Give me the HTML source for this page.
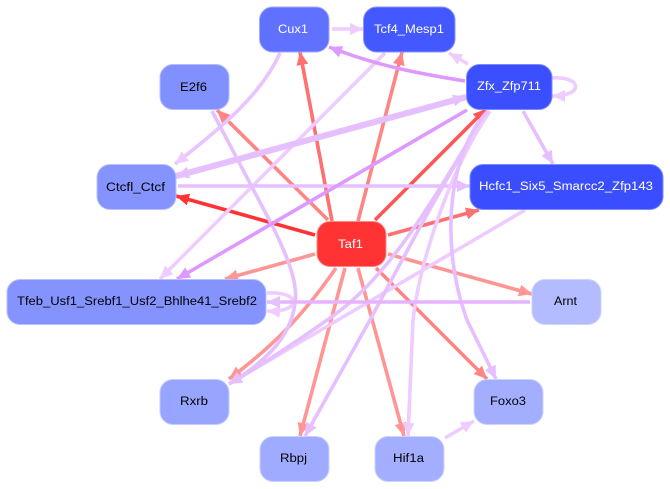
<!DOCTYPE html>
<html><head><meta charset="utf-8"><style>
html,body{margin:0;padding:0;background:#fff;width:670px;height:489px;overflow:hidden}
svg{display:block}
text{font-family:"Liberation Sans",sans-serif;font-size:11.5px}
.e{fill:none}
</style></head><body>
<svg width="670" height="489" viewBox="0 0 670 489" xmlns="http://www.w3.org/2000/svg">
<defs>
<marker id="a1" markerUnits="userSpaceOnUse" markerWidth="16" markerHeight="16" refX="13" refY="8" orient="auto"><path d="M0,2L13,8L0,14z" fill="#e6bfff"/></marker>
<marker id="a2" markerUnits="userSpaceOnUse" markerWidth="16" markerHeight="16" refX="13" refY="8" orient="auto"><path d="M0,2L13,8L0,14z" fill="#eeccff"/></marker>
<marker id="a3" markerUnits="userSpaceOnUse" markerWidth="16" markerHeight="16" refX="13" refY="8" orient="auto"><path d="M0,2L13,8L0,14z" fill="#dd99ff"/></marker>
<marker id="r3" markerUnits="userSpaceOnUse" markerWidth="16" markerHeight="16" refX="13" refY="8" orient="auto"><path d="M0,2L13,8L0,14z" fill="#ff3333"/></marker>
<marker id="r5" markerUnits="userSpaceOnUse" markerWidth="16" markerHeight="16" refX="13" refY="8" orient="auto"><path d="M0,2L13,8L0,14z" fill="#ff5555"/></marker>
<marker id="r7" markerUnits="userSpaceOnUse" markerWidth="16" markerHeight="16" refX="13" refY="8" orient="auto"><path d="M0,2L13,8L0,14z" fill="#ff7070"/></marker>
<marker id="r8" markerUnits="userSpaceOnUse" markerWidth="16" markerHeight="16" refX="13" refY="8" orient="auto"><path d="M0,2L13,8L0,14z" fill="#ff8585"/></marker>
<marker id="r9" markerUnits="userSpaceOnUse" markerWidth="16" markerHeight="16" refX="13" refY="8" orient="auto"><path d="M0,2L13,8L0,14z" fill="#ff9595"/></marker>
</defs>

<!-- edges: red first -->
<g class="e" stroke-width="3.600">
<path d="M332,221L300,52" stroke="#ff7070" marker-end="url(#r7)"/>
<path d="M358,221L402,52" stroke="#ff8585" marker-end="url(#r8)"/>
<path d="M328,220L217,110" stroke="#ff8585" marker-end="url(#r8)"/>
<path d="M315,235L176,196" stroke="#ff3333" marker-end="url(#r3)"/>
<path d="M375,220L486,109" stroke="#ff5555" marker-end="url(#r5)"/>
<path d="M388,235L479,210" stroke="#ff7070" marker-end="url(#r7)"/>
<path d="M388,254L532,294" stroke="#ff9595" marker-end="url(#r9)"/>
<path d="M376,268L487,379" stroke="#ff8585" marker-end="url(#r8)"/>
<path d="M358,268L404,436" stroke="#ff9595" marker-end="url(#r9)"/>
<path d="M345,268L300,436" stroke="#ff9595" marker-end="url(#r9)"/>
<path d="M336,268C300,320 268,350 229,379" stroke="#ff9595" marker-end="url(#r9)"/>
<path d="M315,254L225,279" stroke="#ff9595" marker-end="url(#r9)"/>
<!-- pale edges -->
<path d="M525,210L229,384" stroke="#eeccff" marker-end="url(#a2)"/>
<path d="M385,53L160,279" stroke="#eeccff" marker-end="url(#a2)"/>
<path d="M280,53C262,93 225,125 175,164" stroke="#e9c4ff" marker-end="url(#a2)"/>
<path d="M332,29L363,29" stroke="#eeccff" marker-end="url(#a2)"/>
<path d="M468,64L449,53" stroke="#eeccff" marker-end="url(#a2)"/>
<path d="M445,438L474,421" stroke="#eeccff" marker-end="url(#a2)"/>
<path d="M178,186L470,186" stroke="#e6bfff" marker-end="url(#a1)"/>
<path d="M212,111L273,227C290,262 298,285 295,303C291,340 260,365 229,384" stroke="#e6bfff" marker-end="url(#a1)"/>
<path d="M488,111C448,170 400,270 330,318C296,342 260,366 229,384" stroke="#e6bfff" marker-end="url(#a1)"/>
<path d="M488,111C450,170 410,245 370,320L305,436" stroke="#e6bfff" marker-end="url(#a1)"/>
<path d="M490,111C450,170 420,260 413,320L408,436" stroke="#eeccff" marker-end="url(#a2)"/>
<path d="M488,111C450,150 438,240 467,320L496,379" stroke="#e6bfff" marker-end="url(#a1)"/>
<path d="M523,111L553,164" stroke="#e6bfff" marker-end="url(#a1)"/>
<path d="M552,78C582,76 585,96 552,96" stroke="#eeccff" marker-end="url(#a2)"/>
<path d="M267,293C302,291 302,313 267,311" stroke="#eeccff" marker-end="url(#a2)"/>
<path d="M530,302L267,302" stroke="#e6b3ff" marker-end="url(#a1)"/>
<path d="M177,176L466,97" stroke="#e6bfff" stroke-width="6" marker-end="url(#a1)"/>
<path d="M466,97L176,176" stroke="#e6bfff" stroke-width="6" marker-end="url(#a1)"/>
<path d="M467,110L177,279" stroke="#dd99ff" marker-end="url(#a3)"/>
<path d="M465,81C415,73 375,65 329,47" stroke="#dd99ff" marker-end="url(#a3)"/>
</g>

<!-- nodes -->
<g stroke-width="1">
<rect x="259.500" y="7" width="69.500" height="45" rx="13" fill="#6070ff" stroke="#a0aaff"/>
<rect x="363.500" y="7" width="91.500" height="45" rx="13" fill="#4458ff" stroke="#8a96ff"/>
<rect x="466.500" y="64.500" width="85.500" height="45" rx="13" fill="#3b4fff" stroke="#7c8aff"/>
<rect x="160" y="64.500" width="69" height="45" rx="13" fill="#8090ff" stroke="#b3bcff"/>
<rect x="97" y="164.500" width="79" height="45" rx="13" fill="#8593ff" stroke="#b8c0ff"/>
<rect x="470" y="164.500" width="193" height="45" rx="13" fill="#3a4eff" stroke="#7c8aff"/>
<rect x="317" y="221.500" width="69" height="45" rx="13" fill="#ff3333" stroke="#ff8888"/>
<rect x="7" y="279.500" width="259" height="45" rx="13" fill="#8593ff" stroke="#b8c0ff"/>
<rect x="532" y="279.500" width="69" height="45" rx="13" fill="#b3bcff" stroke="#d0d5ff"/>
<rect x="160" y="379.500" width="69" height="45" rx="13" fill="#98a5ff" stroke="#c4cbff"/>
<rect x="260" y="436.500" width="69" height="45" rx="13" fill="#9fabff" stroke="#cbd1ff"/>
<rect x="375" y="436.500" width="69" height="45" rx="13" fill="#a3aeff" stroke="#ced3ff"/>
<rect x="474" y="379.500" width="69" height="45" rx="13" fill="#a3aeff" stroke="#ced3ff"/>
</g>

<!-- labels -->
<g fill="#000">
<text x="180" y="91" textLength="27" lengthAdjust="spacingAndGlyphs">E2f6</text>
<text x="106" y="191" textLength="59" lengthAdjust="spacingAndGlyphs">Ctcfl_Ctcf</text>
<text x="17" y="305" textLength="240" lengthAdjust="spacingAndGlyphs">Tfeb_Usf1_Srebf1_Usf2_Bhlhe41_Srebf2</text>
<text x="554" y="305" textLength="23" lengthAdjust="spacingAndGlyphs">Arnt</text>
<text x="180" y="405" textLength="28" lengthAdjust="spacingAndGlyphs">Rxrb</text>
<text x="280" y="462" textLength="27" lengthAdjust="spacingAndGlyphs">Rbpj</text>
<text x="393" y="462" textLength="31" lengthAdjust="spacingAndGlyphs">Hif1a</text>
<text x="490" y="405" textLength="36" lengthAdjust="spacingAndGlyphs">Foxo3</text>
</g>
<g fill="#fff">
<text x="278" y="33" textLength="30" lengthAdjust="spacingAndGlyphs">Cux1</text>
<text x="374" y="33" textLength="70" lengthAdjust="spacingAndGlyphs">Tcf4_Mesp1</text>
<text x="477" y="90" textLength="64" lengthAdjust="spacingAndGlyphs">Zfx_Zfp711</text>
<text x="479" y="190" textLength="174" lengthAdjust="spacingAndGlyphs">Hcfc1_Six5_Smarcc2_Zfp143</text>
<text x="338" y="248" textLength="25" lengthAdjust="spacingAndGlyphs">Taf1</text>
</g>
</svg>
</body></html>
